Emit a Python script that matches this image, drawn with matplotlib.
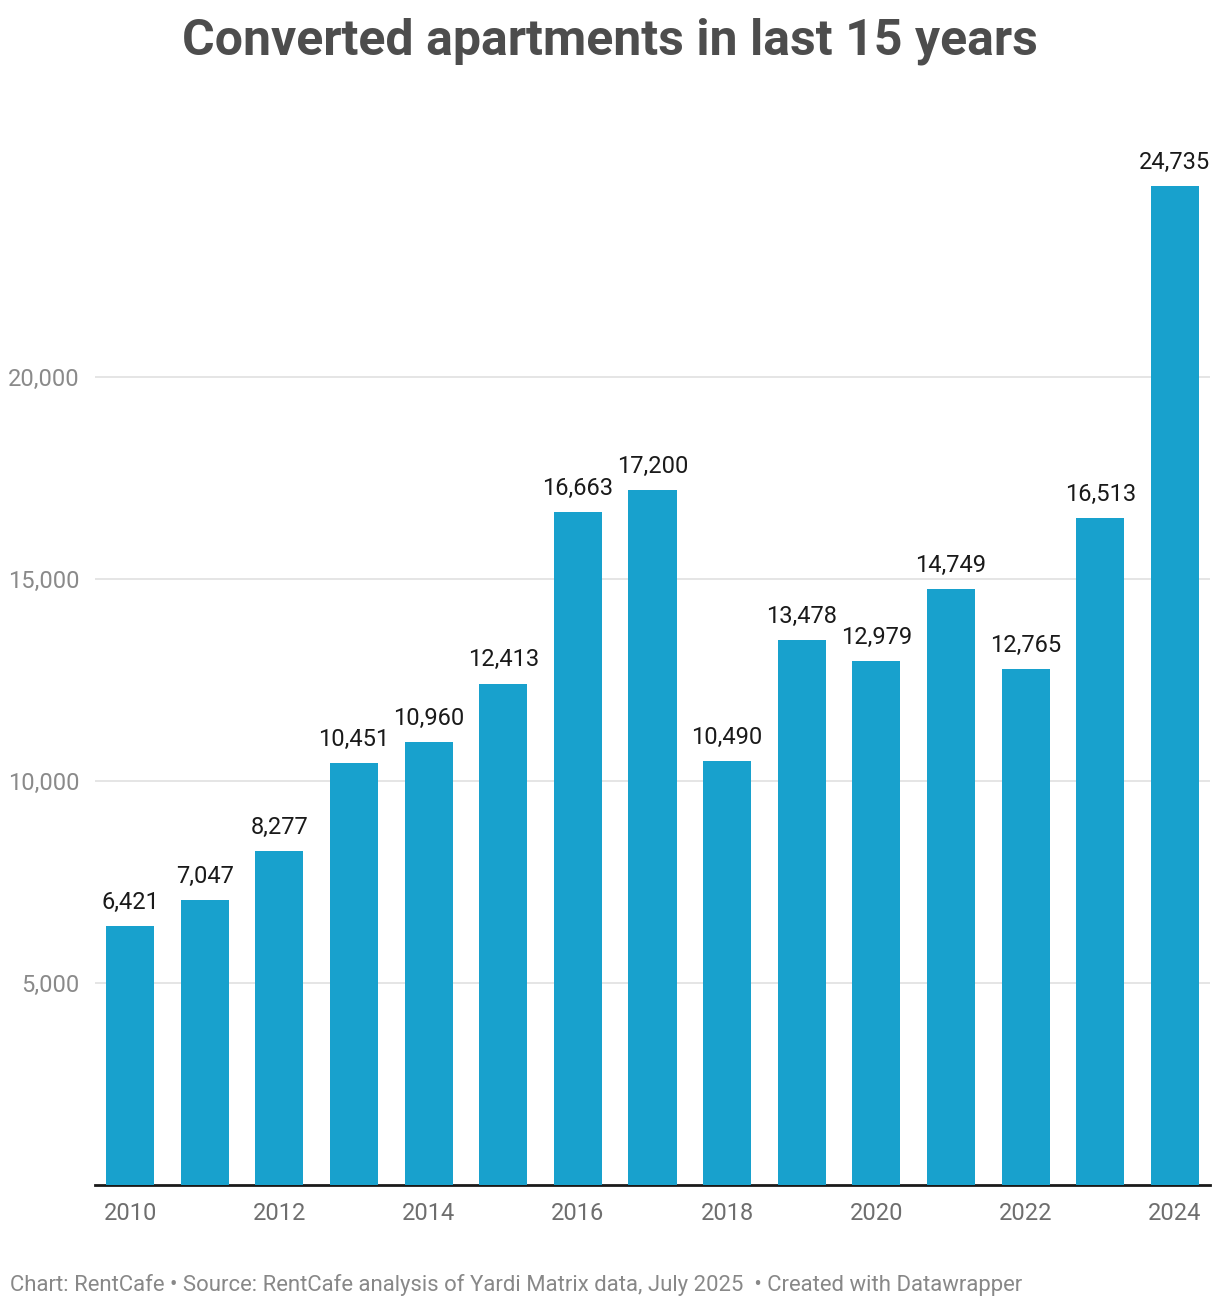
import matplotlib.pyplot as plt
import numpy as np

plt.rcParams['font.family'] = ['Roboto', 'DejaVu Sans']

# Data
years = [2010, 2011, 2012, 2013, 2014, 2015, 2016, 2017, 2018, 2019, 2020, 2021, 2022, 2023, 2024]
units = [6421, 7047, 8277, 10451, 10960, 12413, 16663, 17200, 10490, 13478, 12979, 14749, 12765, 16513, 24735]
yticks = [5000, 10000, 15000, 20000]

W, H = 1220, 1308
fig = plt.figure(figsize=(W / 100, H / 100), dpi=100)
ax = fig.add_axes([95 / W, 1 - 1185 / H, 1115 / W, 1085 / H])

x = np.arange(len(years))
ax.bar(x, units, width=0.645, color='#18a1cd', zorder=3)

for xi, v in zip(x, units):
    ax.text(xi, v + 300, f"{v:,}", ha='center', va='bottom', fontsize=17, color='#1a1a1a')

ax.set_xlim(-0.47, len(years) - 0.53)
ax.set_ylim(0, 1085 * 5000 / 202)
ax.set_yticks(yticks)
ax.set_yticklabels([f"{t:,}" for t in yticks])
ax.yaxis.grid(True, color='#e0e0e0', linewidth=1.2, zorder=0)
ax.set_xticks(x[::2])
ax.set_xticklabels([str(y) for y in years[::2]])

for s in ['top', 'right', 'left']:
    ax.spines[s].set_visible(False)
ax.spines['bottom'].set_color('#1a1a1a')
ax.spines['bottom'].set_linewidth(2)
ax.tick_params(axis='both', length=0, labelsize=17)
ax.tick_params(axis='x', pad=12, colors='#6e6e6e')
ax.tick_params(axis='y', pad=11, colors='#8a8a8a')

fig.text(0.5, 1 - 41 / H, "Converted apartments in last 15 years", ha='center', va='center',
         fontsize=36, fontweight='bold', color='#4d4d4d')
fig.text(10 / W, 1 - 1285 / H,
         "Chart: RentCafe \u2022 Source: RentCafe analysis of Yardi Matrix data, July 2025  \u2022 Created with Datawrapper",
         ha='left', va='center', fontsize=15.9, color='#888888')

fig.savefig('out.png', dpi=100)
